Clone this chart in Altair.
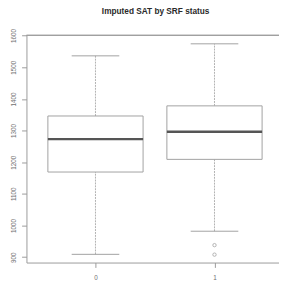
import altair as alt
import pandas as pd

groups = ["0", "1"]
positions = [1, 2]
q1 = [1169, 1209]
medians = [1273, 1296]
q3 = [1346, 1378]
whisker_lo = [909, 982]
whisker_hi = [1536, 1574]
outlier_group = [2, 2]
outlier_values = [938, 908]
y_ticks = [900, 1000, 1100, 1200, 1300, 1400, 1500, 1600]

box_df = pd.DataFrame({
    "group": groups, "pos": positions, "q1": q1, "median": medians,
    "q3": q3, "lo": whisker_lo, "hi": whisker_hi,
})
out_df = pd.DataFrame({"pos": outlier_group, "value": outlier_values})

W, H = 260, 234
xscale = alt.Scale(domain=[0.42, 2.542], nice=False, zero=False)
yscale = alt.Scale(domain=[883, 1601], nice=False, zero=False)

FRAME = "#9a9a9a"
BOXC = "#a0a0a0"
TXT = "#707070"

xaxis = alt.Axis(values=positions, labelExpr="datum.value == 1 ? '0' : '1'",
                 title=None, grid=False, domain=True, domainColor=FRAME,
                 tickColor=FRAME, tickSize=5, labelFontSize=6.5,
                 labelColor=TXT, labelPadding=7, labelFont="Liberation Sans")
yaxis = alt.Axis(values=y_ticks, format="d", labelOverlap=False,
                 labelSeparation=0, title=None, grid=False, domain=True,
                 domainColor=FRAME, tickColor=FRAME, tickSize=5,
                 labelAngle=270, labelAlign="center", labelBaseline="bottom",
                 labelFontSize=6.5, labelColor=TXT, labelPadding=5,
                 labelFont="Liberation Sans")


def X(f):
    return alt.X(f, scale=xscale, axis=xaxis)


def Y(f):
    return alt.Y(f, scale=yscale, axis=yaxis)


base = alt.Chart(box_df).transform_calculate(
    left="datum.pos - 0.4", right="datum.pos + 0.4",
    cl="datum.pos - 0.2", cr="datum.pos + 0.2",
)

whisk_hi = base.mark_rule(color="#b0b0b0", strokeDash=[2, 1], strokeWidth=1).encode(
    x=X("pos:Q"), y=Y("q3:Q"), y2="hi:Q",
)
whisk_lo = base.mark_rule(color="#b0b0b0", strokeDash=[2, 1], strokeWidth=1).encode(
    x=X("pos:Q"), y=Y("lo:Q"), y2="q1:Q",
)
cap_hi = base.mark_rule(color=BOXC, strokeWidth=1).encode(
    x=X("cl:Q"), x2="cr:Q", y=Y("hi:Q"),
)
cap_lo = base.mark_rule(color=BOXC, strokeWidth=1).encode(
    x=X("cl:Q"), x2="cr:Q", y=Y("lo:Q"),
)
boxes = base.mark_rect(fill="white", stroke=BOXC, strokeWidth=1).encode(
    x=X("left:Q"), x2="right:Q", y=Y("q1:Q"), y2="q3:Q",
)
med = base.mark_rule(color="#555555", strokeWidth=2.5).encode(
    x=X("left:Q"), x2="right:Q", y=Y("median:Q"),
)
outl = alt.Chart(out_df).mark_point(shape="circle", filled=False, color="#888888",
                                    size=12, strokeWidth=0.9).encode(
    x=X("pos:Q"), y=Y("value:Q"),
)
top_line = alt.Chart(box_df).mark_rule(color=FRAME, strokeWidth=1).encode(
    x=alt.value(0), x2=alt.value(W), y=alt.value(0),
)

chart = alt.layer(
    whisk_hi, whisk_lo, cap_hi, cap_lo, boxes, med, outl, top_line
).properties(
    width=W, height=H,
    title=alt.TitleParams("Imputed SAT by SRF status", fontSize=8.5,
                          fontWeight="bold", font="Liberation Sans",
                          color="#2a2a2a", offset=13, dx=3),
    autosize=alt.AutoSizeParams(type="none"),
    padding={"left": 19, "top": 24, "right": 0, "bottom": 18},
).configure_view(stroke=None).configure_axis(
    labelOverlap=False, labelFlush=False, labelBound=False
)

chart.save("out.html", embed_options={"renderer": "svg", "actions": False})
